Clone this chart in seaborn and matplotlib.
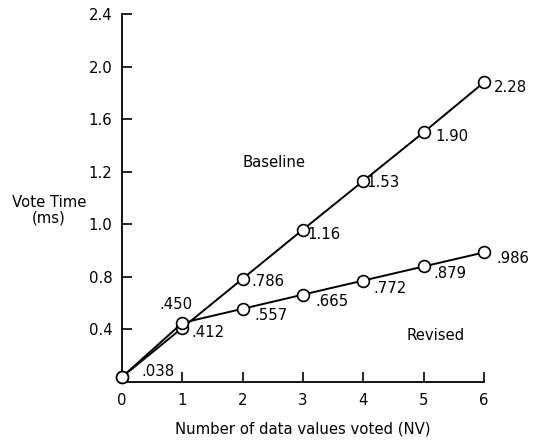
import matplotlib
matplotlib.use("Agg")
import matplotlib.pyplot as plt
import seaborn as sns
import pandas as pd

nv = [0, 1, 2, 3, 4, 5, 6]
baseline = [0.038, 0.412, 0.786, 1.16, 1.53, 1.90, 2.28]
revised = [0.038, 0.450, 0.557, 0.665, 0.772, 0.879, 0.986]
baseline_labels = [".038", ".412", ".786", "1.16", "1.53", "1.90", "2.28"]
revised_labels = ["", ".450", ".557", ".665", ".772", ".879", ".986"]
ytick_values = [0.4, 0.8, 1.2, 1.6, 2.0, 2.4, 2.8]
ytick_labels = ["0.4", "0.8", "1.0", "1.2", "1.6", "2.0", "2.4"]
xtick_values = [0, 1, 2, 3, 4, 5, 6]
xtick_labels = ["0", "1", "2", "3", "4", "5", "6"]

sns.set_theme(style="ticks")
plt.rcParams["font.family"] = ["DejaVu Sans"]
FS = 10.7

df = pd.DataFrame({
    "NV": nv + nv,
    "time": baseline + revised,
    "series": ["Baseline"] * len(nv) + ["Revised"] * len(nv),
})

fig = plt.figure(figsize=(5.34, 4.41), dpi=100)
ax = fig.add_axes([122 / 534, 1 - 382 / 441, 362 / 534, 368 / 441])

sns.lineplot(data=df, x="NV", y="time", units="series", estimator=None,
             color="black", linewidth=1.4, marker="o", markersize=8.5,
             markerfacecolor="white", markeredgecolor="black",
             markeredgewidth=1.2, ax=ax, legend=False, zorder=3)
for ln in ax.lines:
    ln.set_clip_on(False)

ax.set_xlim(0, 6)
ax.set_ylim(0, 2.8)
sns.despine(ax=ax)
for s in ("left", "bottom"):
    ax.spines[s].set_linewidth(1.3)
    ax.spines[s].set_color("black")

ax.set_yticks(ytick_values)
ax.set_yticklabels(ytick_labels)
ax.set_xticks(xtick_values)
ax.set_xticklabels(xtick_labels)
ax.tick_params(axis="both", direction="in", length=7, width=1.2, color="black",
               labelsize=FS, labelcolor="black")
ax.tick_params(axis="y", pad=7)
ax.tick_params(axis="x", pad=8)

ax.set_xlabel("Number of data values voted (NV)", fontsize=FS, labelpad=10, color="black")
ax.set_ylabel("Vote Time\n(ms)", fontsize=FS, rotation=0, ha="center", va="center",
              color="black", linespacing=1.1)
ax.yaxis.set_label_coords(-0.202, 0.467)

k = 0.72
base_off = [(19, 6), (9, -5), (9, -3), (4, -5), (3, -2), (12, -4), (10, -5)]
rev_off = [(0, 0), (-23, 18), (12, -7), (12, -7), (10, -8), (10, -7), (12, -6)]
for x, y, lab, (dx, dy) in zip(nv, baseline, baseline_labels, base_off):
    ax.annotate(lab, (x, y), xytext=(dx * k, dy * k), textcoords="offset points",
                ha="left", va="center", fontsize=FS, color="black", annotation_clip=False)
for x, y, lab, (dx, dy) in zip(nv, revised, revised_labels, rev_off):
    if lab:
        ax.annotate(lab, (x, y), xytext=(dx * k, dy * k), textcoords="offset points",
                    ha="left", va="center", fontsize=FS, color="black", annotation_clip=False)

ax.text(2.52, 1.667, "Baseline", ha="center", va="center", fontsize=FS, color="black")
ax.text(5.19, 0.35, "Revised", ha="center", va="center", fontsize=FS, color="black")

fig.savefig("out.png", dpi=100, facecolor="white")
